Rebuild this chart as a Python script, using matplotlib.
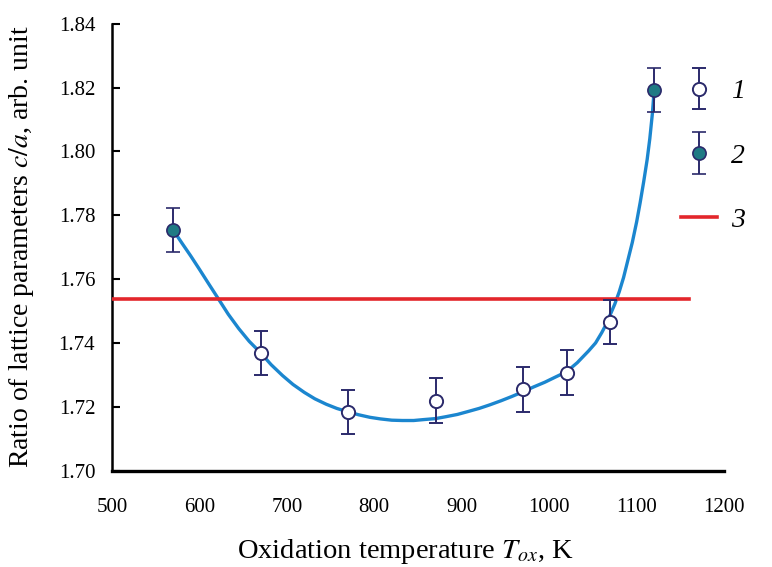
import matplotlib
matplotlib.use('Agg')
import matplotlib.pyplot as plt
from matplotlib.legend_handler import HandlerErrorbar

plt.rcParams['font.family'] = 'serif'
plt.rcParams['font.serif'] = ['Liberation Serif', 'DejaVu Serif']
plt.rcParams['mathtext.fontset'] = 'stix'

# 1 - open points, 2 - filled points
t_open = [670, 770, 870, 970, 1020, 1070]
ca_open = [1.7369, 1.7184, 1.7219, 1.7255, 1.7307, 1.7466]
t_fill = [570, 1120]
ca_fill = [1.7754, 1.8193]
err = 0.007

# 3 - ideal c/a line
t_line = [500, 1160]
ca_ideal = 1.7537

# fitted curve
t_fit = [570, 580, 590, 600, 610, 622, 633, 645, 657, 670, 682, 695, 707,
         720, 732, 745, 757, 770, 782, 795, 807, 820, 832, 845, 857, 870,
         882, 895, 907, 920, 932, 945, 957, 970, 982, 995, 1007, 1020, 1032,
         1045, 1053, 1060, 1065, 1070, 1075, 1080, 1085, 1090, 1095, 1100,
         1104, 1108, 1112, 1115, 1118, 1120]
ca_fit = [1.7754, 1.7713, 1.7673, 1.7631, 1.7588, 1.7537, 1.7490, 1.7445,
          1.7405, 1.7369, 1.7332, 1.7298, 1.7270, 1.7245, 1.7225, 1.7208,
          1.7195, 1.7184, 1.7175, 1.7167, 1.7162, 1.7158, 1.7157, 1.7157,
          1.7160, 1.7163, 1.7169, 1.7176, 1.7185, 1.7195, 1.7206, 1.7219,
          1.7232, 1.7247, 1.7262, 1.7277, 1.7293, 1.7310, 1.7338, 1.7375,
          1.7400, 1.7432, 1.7458, 1.7490, 1.7522, 1.7560, 1.7605, 1.7660,
          1.7715, 1.7780, 1.7840, 1.7905, 1.7975, 1.8040, 1.8120, 1.8193]

navy = '#2b2a6b'

fig = plt.figure(figsize=(7.72, 5.67), dpi=100)
ax = fig.add_axes([0.145, 0.170, 0.793, 0.788])

ax.plot(t_line, [ca_ideal, ca_ideal], color='#e3262b', lw=2.6, zorder=3)
ax.plot(t_fit, ca_fit, color='#1b86cf', lw=2.4, zorder=2,
        solid_capstyle='round', solid_joinstyle='round')
e1 = ax.errorbar(t_open, ca_open, yerr=err, fmt='o', ms=9.5, mfc='white',
                 mec=navy, mew=1.4, ecolor=navy, elinewidth=1.4, capsize=5,
                 capthick=1.4, zorder=4)
e2 = ax.errorbar(t_fill, ca_fill, yerr=err, fmt='o', ms=9.5, mfc='#1f7a84',
                 mec=navy, mew=1.2, ecolor=navy, elinewidth=1.4, capsize=5,
                 capthick=1.4, zorder=4)
l3, = ax.plot([], [], color='#e3262b', lw=2.6)

ax.set_xlim(500, 1200)
ax.set_ylim(1.70, 1.84)
ax.set_xticks(range(500, 1201, 100))
ax.set_yticks([1.70, 1.72, 1.74, 1.76, 1.78, 1.80, 1.82, 1.84])
ax.set_yticklabels(['1.70', '1.72', '1.74', '1.76', '1.78', '1.80', '1.82', '1.84'])
ax.tick_params(axis='x', length=0, pad=20, labelsize=15)
ax.tick_params(axis='y', direction='in', length=6, width=1.5, pad=12,
               labelsize=15)
ax.spines['top'].set_visible(False)
ax.spines['right'].set_visible(False)
ax.spines['left'].set_linewidth(1.8)
ax.spines['bottom'].set_linewidth(2.4)

ax.set_xlabel('Oxidation temperature $T_{ox}$, K', fontsize=20.5)
ax.set_ylabel('Ratio of lattice parameters $c/a$, arb. unit', fontsize=20)
ax.xaxis.set_label_coords(0.48, -0.148)
ax.yaxis.set_label_coords(-0.124, 0.5)

leg = fig.legend([e1, e2, l3], ['1', '2', '3'], loc='upper left',
                 bbox_to_anchor=(0.85, 0.905), frameon=False,
                 prop={'style': 'italic', 'size': 20}, handlelength=1.3,
                 labelspacing=1.4, handletextpad=0.5,
                 handler_map={type(e1): HandlerErrorbar(yerr_size=0.75)})

fig.savefig('out.png', dpi=100)
